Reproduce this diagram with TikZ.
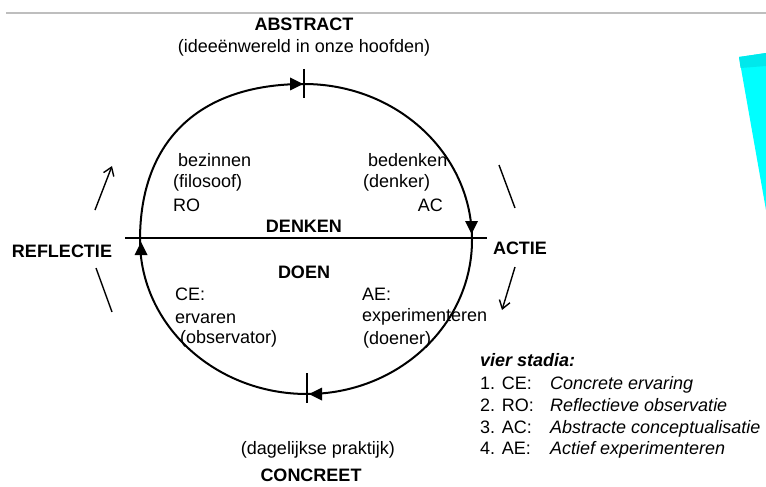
\documentclass[tikz,border=0pt]{standalone}
\usepackage{fontspec}
\setmainfont{Liberation Sans}
\usetikzlibrary{arrows.meta}
\definecolor{aqua}{RGB}{0,255,255}
\definecolor{aquatop}{RGB}{0,232,236}
\definecolor{rulegray}{RGB}{190,190,190}
\begin{document}
\begin{tikzpicture}[x=1pt,y=-1pt,
  txt/.style={inner sep=0pt, font=\fontsize{18}{21}\selectfont},
  hd/.style={inner sep=0pt, font=\fontsize{18}{21}\selectfont\bfseries},
  itx/.style={inner sep=0pt, font=\fontsize{18}{21}\selectfont\itshape},
  bit/.style={inner sep=0pt, font=\fontsize{18}{21}\selectfont\bfseries\itshape},
  ring/.style={line width=2pt},
  tick/.style={line width=1.5pt},
  tri/.style={fill=black},
  outarrow/.style={line width=1.4pt, -{Straight Barb[length=8pt,width=11pt]}},
  outline/.style={line width=1.4pt}]
\path[use as bounding box] (0,0) rectangle (766,487);
\fill[white] (0,0) rectangle (766,487);
% top rule and cyan wedge
\draw[rulegray, line width=1.5pt] (6,13) -- (766,13);
\fill[aqua] (739,57) -- (766,53) -- (766,210) -- cycle;
\fill[aquatop] (739,57) -- (766,53) -- (766,66) -- (740.6,68) -- cycle;
% cycle
\draw[ring] (304,84) .. controls (397,84) and (472,154) .. (472,240)
  .. controls (472,325) and (398,394) .. (307,394)
  .. controls (215,394) and (140,325) .. (140,240)
  .. controls (140,140) and (200,84) .. (304,84) -- cycle;
\draw[ring] (125,238) -- (487,238);
\draw[tick] (304,69) -- (304,98);
\draw[tick] (307,373) -- (307,403);
\fill[tri] (303,84) -- (290,77.5) -- (290,90.5) -- cycle;
\fill[tri] (471.5,234) -- (465,221) -- (478,221) -- cycle;
\fill[tri] (309,394) -- (322,387.5) -- (322,400.5) -- cycle;
\fill[tri] (141,242) -- (134.5,255) -- (147.5,255) -- cycle;
% outer arrows
\coordinate (la1) at (95,210); \coordinate (la2) at (112,166);
\coordinate (lb1) at (96,268); \coordinate (lb2) at (112,312);
\coordinate (ra1) at (499,165); \coordinate (ra2) at (515,208);
\coordinate (rb1) at (515,267); \coordinate (rb2) at (502,310);
\draw[outarrow] (la1) -- (la2);
\draw[outline] (lb1) -- (lb2);
\draw[outline] (ra1) -- (ra2);
\draw[outarrow] (rb1) -- (rb2);
% headings
\node[hd] (abs) at (304,24) {ABSTRACT};
\node[txt] (idee) at (304,48) {(ideeënwereld in onze hoofden)};
\node[hd] (refl) at (62,251) {REFLECTIE};
\node[hd] (actie) at (520,248) {ACTIE};
\node[hd] (denken) at (304,226) {DENKEN};
\node[hd] (doen) at (304,272) {DOEN};
\node[txt] (dag) at (318,450) {(dagelijkse praktijk)};
\node[hd] (conc) at (311,475) {CONCREET};
% quadrant texts
\node[txt, anchor=west] (bez) at (178,160) {bezinnen};
\node[txt, anchor=west] (fil) at (173,183) {(filosoof)};
\node[txt, anchor=west] (ro) at (173,205) {RO};
\node[txt, anchor=west] (bed) at (368,160) {bedenken};
\node[txt, anchor=west] (den) at (363,183) {(denker)};
\node[txt, anchor=east] (ac) at (443,205) {AC};
\node[txt, anchor=west] (ce) at (175,294) {CE:};
\node[txt, anchor=west] (erv) at (175,319) {ervaren};
\node[txt, anchor=west] (obs) at (180,339) {(observator)};
\node[txt, anchor=west] (ae) at (362,294) {AE:};
\node[txt, anchor=west] (exp) at (362,317) {experimenteren};
\node[txt, anchor=west] (doe) at (363,340) {(doener)};
% legend
\node[bit, anchor=base west] (vier) at (480,366.5) {vier stadia:};
\node[txt, anchor=base west] (l1) at (480,389.5) {1. CE:};
\node[itx, anchor=base west] (d1) at (550,389.5) {Concrete ervaring};
\node[txt, anchor=base west] (l2) at (480,411) {2. RO:};
\node[itx, anchor=base west] (d2) at (550,411) {Reflectieve observatie};
\node[txt, anchor=base west] (l3) at (480,433) {3. AC:};
\node[itx, anchor=base west] (d3) at (550,433) {Abstracte conceptualisatie};
\node[txt, anchor=base west] (l4) at (480,454.5) {4. AE:};
\node[itx, anchor=base west] (d4) at (550,454.5) {Actief experimenteren};
\end{tikzpicture}
\end{document}
